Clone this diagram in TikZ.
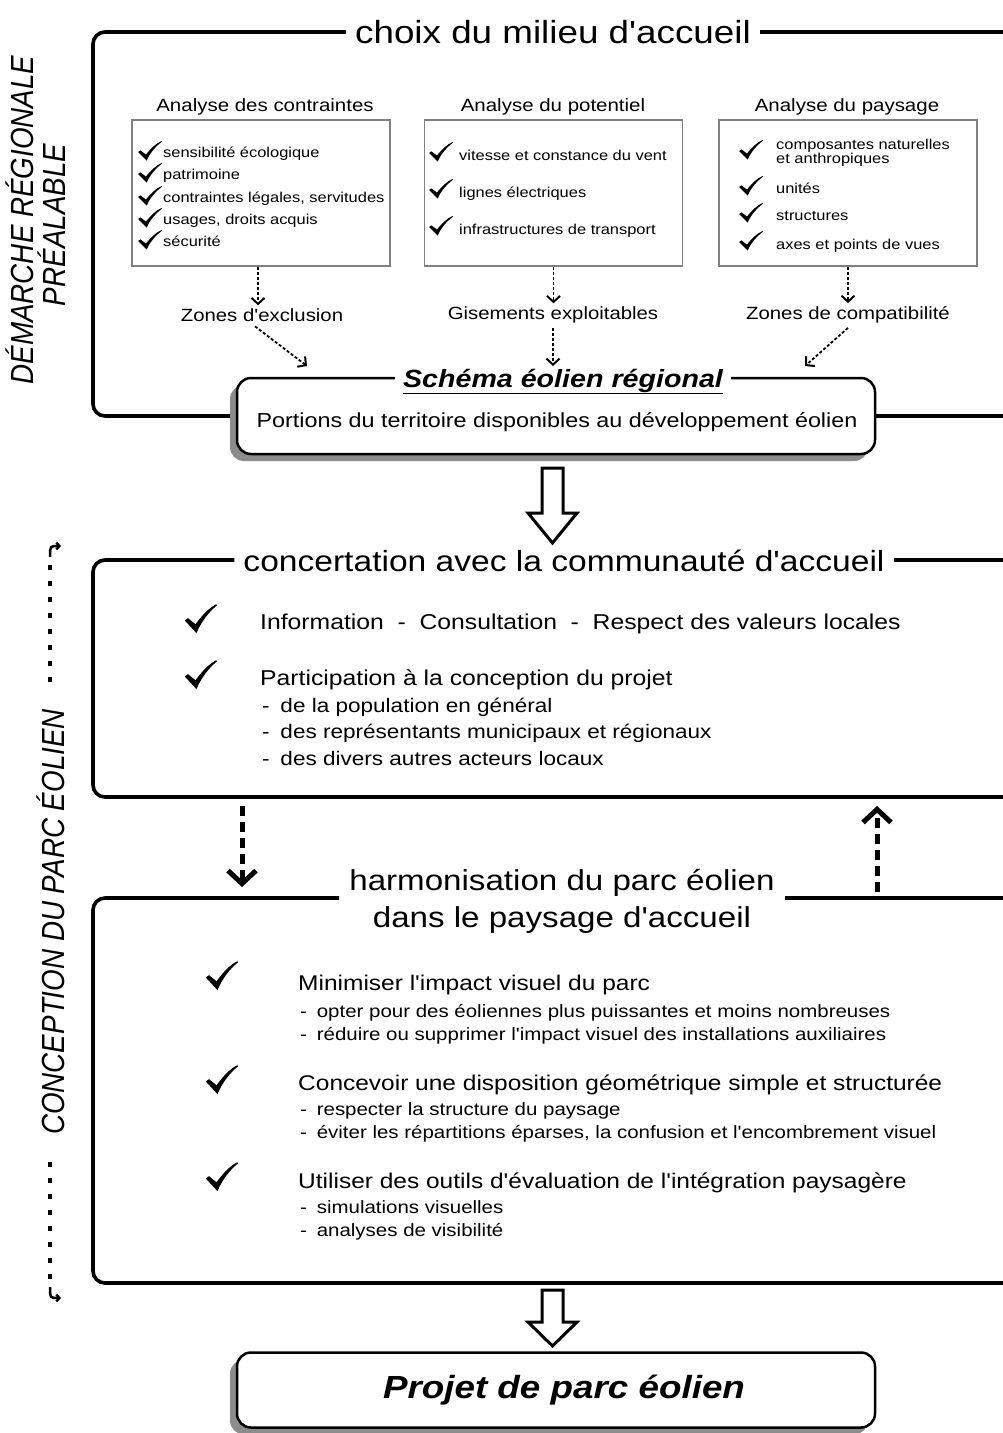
\documentclass[tikz,border=0pt]{standalone}
\usepackage{fontspec}
\setmainfont{Liberation Sans}[FakeStretch=1.15, Ligatures=TeXOff]
\newfontfamily\rotfont{Liberation Sans}[Ligatures=TeXOff]
\usetikzlibrary{arrows.meta,shadows,backgrounds}
\newcommand\fsz[1]{\fontsize{#1}{#1}\selectfont}
\tikzset{
  frame/.style={line width=3.6pt, rounded corners=12pt},
  ftitle/.style={inner xsep=9pt, inner ysep=2pt, anchor=base},
  abox/.style={draw=black!50, line width=1.3pt, minimum width=258pt, minimum height=146pt, inner sep=0pt},
  atitle/.style={font=\fsz{17.8}, anchor=mid},
  aitem/.style={font=\fsz{14.3}, anchor=mid west, inner sep=0pt},
  zlabel/.style={font=\fsz{17.7}, anchor=mid},
  smallarrow/.style={line width=1.8pt, dash pattern=on 3pt off 2pt, -{Straight Barb[length=6pt,width=13pt,line width=2pt]}},
  rbox/.style={draw, line width=2.5pt, rounded corners=14pt, fill=white, drop shadow={shadow xshift=-7pt, shadow yshift=-7pt, fill=black!45, opacity=1}},
  mitem/.style={font=\fsz{21.5}, anchor=mid west, inner sep=0pt},
  sitem/.style={font=\fsz{19.6}, anchor=mid west, inner sep=0pt},
  titem/.style={font=\fsz{21.3}, anchor=mid west, inner sep=0pt},
  tsub/.style={font=\fsz{17.8}, anchor=mid west, inner sep=0pt},
  hollow/.style={draw, line width=3pt, fill=white, miter limit=10},
  thickdash/.style={line width=5pt, dash pattern=on 10pt off 6pt, -{Straight Barb[length=13pt,width=28pt,line width=5pt]}},
  sidedots/.style={line width=4.5pt, dash pattern=on 5pt off 11pt},
  hook/.style={line width=2.5pt, -{Straight Barb[length=3pt,width=7pt,line width=2.5pt]}},
  rottext/.style={rotate=90, inner sep=0pt, anchor=base, font=\rotfont\itshape\fsz{27.8}},
  chk/.pic={\fill (-15,1.5) -- (-12,-0.9) -- (-5.1,5.4) .. controls (1.5,-4.5) and (7.5,-11.4) .. (14.1,-15) -- (15,-14.1) .. controls (7.5,-7.5) and (0,3) .. (-4.2,14.4) -- cycle;},
  smallchk/.style={xscale=0.8, yscale=0.66},
  bigchk/.style={xscale=1.08, yscale=0.98},
}
\begin{document}
\begin{tikzpicture}[x=1pt,y=-1pt]
\useasboundingbox (0,0) rectangle (1003,1433);

% ---------- side labels ----------
\node[rottext] (dr1) at (33,220) {\scalebox{1}[1.15]{DÉMARCHE RÉGIONALE}};
\node[rottext] (dr2) at (65,225) {\scalebox{1}[1.15]{PRÉALABLE}};
\node[rottext] (cp) at (64,922) {\scalebox{1}[1.15]{CONCEPTION DU PARC ÉOLIEN}};
\coordinate (sd1a) at (50,682);
\coordinate (sd1b) at (50,562);
\coordinate (sd1c) at (61,546);
\coordinate (sd2a) at (50,1162);
\coordinate (sd2b) at (50,1282);
\coordinate (sd2c) at (61,1298);
\draw[sidedots] (sd1a) -- (sd1b);
\draw[hook] (50,557) .. controls (50,546) .. (sd1c);
\draw[sidedots] (sd2a) -- (sd2b);
\draw[hook] (50,1287) .. controls (50,1298) .. (sd2c);

% ---------- frame 1 ----------
\node[ftitle, font=\fsz{32}] (t1) at (553,43) {choix du milieu d'accueil};
\coordinate (f1tl) at (93,32);
\coordinate (f1bl) at (93,416);
\coordinate (f1tr) at (1003,32);
\coordinate (f1br) at (1003,416);

\node[atitle] (a1) at (265,109) {Analyse des contraintes};
\node[atitle] (a2) at (553,109) {Analyse du potentiel};
\node[atitle] (a3) at (847,109) {Analyse du paysage};
\node[abox] (b1) at (261,193) {};
\node[abox] (b2) at (553.5,193) {};
\node[abox] (b3) at (848,193) {};

\node[aitem] (i11) at (163,155) {sensibilité écologique};
\node[aitem] (i12) at (163,177) {patrimoine};
\node[aitem] (i13) at (163,200) {contraintes légales, servitudes};
\node[aitem] (i14) at (163,222) {usages, droits acquis};
\node[aitem] (i15) at (163,244) {sécurité};
\foreach \yy in {151,173,196,218,240} \pic[smallchk] at (150,\yy) {chk};

\node[aitem] (i21) at (459,158) {vitesse et constance du vent};
\node[aitem] (i22) at (459,195) {lignes électriques};
\node[aitem] (i23) at (459,232) {infrastructures de transport};
\foreach \yy in {152,189,226} \pic[smallchk] at (441,\yy) {chk};

\node[anchor=west, inner sep=0pt, align=left, font=\fontsize{14.3}{12}\selectfont] (i31) at (776,153) {composantes naturelles\\et anthropiques};
\node[aitem] (i32) at (776,191) {unités};
\node[aitem] (i33) at (776,218) {structures};
\node[aitem] (i34) at (776,247) {axes et points de vues};
\foreach \yy in {150,186,213,241} \pic[smallchk] at (751,\yy) {chk};

\node[zlabel] (z1) at (262,319) {Zones d'exclusion};
\node[zlabel] (z2) at (553,317) {Gisements exploitables};
\node[zlabel] (z3) at (848,317) {Zones de compatibilité};
\draw[smallarrow] ([xshift=-3pt]b1.south) -- ([xshift=-3pt]b1.south |- z1.north);
\draw[smallarrow] (b2.south) -- (b2.south |- z2.north);
\draw[smallarrow] (b3.south) -- (b3.south |- z3.north);
\coordinate (e1) at (307,366);
\coordinate (e2) at (553,366);
\coordinate (e3) at (805,366);
\draw[smallarrow] ([xshift=-7pt,yshift=-1pt]z1.south) -- (e1);
\draw[smallarrow] ([yshift=-1pt]z2.south) -- (e2);
\draw[smallarrow] ([yshift=-1pt]z3.south) -- (e3);

\node[rbox, minimum width=638pt, minimum height=76pt] (schema) at (556,416) {};
\node[font=\fsz{24.9}\bfseries\itshape, fill=white, inner xsep=8pt, inner ysep=1pt, anchor=base] (st) at (563,387) {\underline{Schéma éolien régional}};
\node[font=\fsz{20.3}, anchor=base] (sp) at (557,427) {Portions du territoire disponibles au développement éolien};

\begin{scope}[on background layer]
\draw[frame] (t1.west |- f1tl) -- (f1tl) -- (f1bl) -- (schema.west);
\draw[frame] (t1.east |- f1tr) -- (f1tr);
\draw[frame] (schema.east) -- (f1br);
\end{scope}

% ---------- hollow arrow 1 ----------
\coordinate (ha1) at (552.5,468);
\draw[hollow] (ha1) ++(-10.5,0) -- ++(21,0) -- ++(0,45) -- ++(14,0) -- ++(-24.5,30) -- ++(-24.5,-30) -- ++(14,0) -- cycle;

% ---------- frame 2 ----------
\node[ftitle, font=\fsz{29.2}] (t2) at (564,571) {concertation avec la communauté d'accueil};
\coordinate (f2tl) at (93,560);
\coordinate (f2bl) at (93,797);
\coordinate (f2tr) at (1003,560);
\coordinate (f2br) at (1003,797);
\draw[frame] (t2.west |- f2tl) -- (f2tl) -- (f2bl) -- (f2br);
\draw[frame] (t2.east |- f2tr) -- (f2tr);

\pic[bigchk] at (201,619) {chk};
\pic[bigchk] at (201,675) {chk};
\node[mitem] (c1) at (260,627) {Information\ \ -\ \ Consultation\ \ -\ \ Respect des valeurs locales};
\node[mitem] (c2) at (260,683) {Participation à la conception du projet};
\node[sitem] (c3) at (262,710) {-\hspace{0.55em}de la population en général};
\node[sitem] (c4) at (262,736) {-\hspace{0.55em}des représentants municipaux et régionaux};
\node[sitem] (c5) at (262,763) {-\hspace{0.55em}des divers autres acteurs locaux};

% ---------- dashed link arrows ----------
\coordinate (d1s) at (242,806);
\coordinate (d1e) at (242,887);
\coordinate (u1s) at (877,892);
\coordinate (u1e) at (877,806);
\draw[thickdash] (d1s) -- (d1e);
\draw[thickdash] (u1s) -- (u1e);

% ---------- frame 3 ----------
\node[font=\fontsize{28.8}{37}\selectfont, align=center, inner xsep=10pt, inner ysep=0pt] (t3) at (562,901) {harmonisation du parc éolien\\dans le paysage d'accueil};
\coordinate (f3tl) at (93,898);
\coordinate (f3bl) at (93,1283);
\coordinate (f3tr) at (1003,898);
\coordinate (f3br) at (1003,1283);
\draw[frame] (t3.west |- f3tl) -- (f3tl) -- (f3bl) -- (f3br);
\draw[frame] (t3.east |- f3tr) -- (f3tr);

\pic[bigchk] at (222,976) {chk};
\pic[bigchk] at (222,1080) {chk};
\pic[bigchk] at (222,1177) {chk};
\node[titem] (h1) at (298,988) {Minimiser l'impact visuel du parc};
\node[tsub] (h1a) at (300,1015) {-\hspace{0.55em}opter pour des éoliennes plus puissantes et moins nombreuses};
\node[tsub] (h1b) at (300,1038) {-\hspace{0.55em}réduire ou supprimer l'impact visuel des installations auxiliaires};
\node[titem] (h2) at (298,1088) {Concevoir une disposition géométrique simple et structurée};
\node[tsub] (h2a) at (300,1113) {-\hspace{0.55em}respecter la structure du paysage};
\node[tsub] (h2b) at (300,1136) {-\hspace{0.55em}éviter les répartitions éparses, la confusion et l'encombrement visuel};
\node[titem] (h3) at (298,1186) {Utiliser des outils d'évaluation de l'intégration paysagère};
\node[tsub] (h3a) at (300,1211) {-\hspace{0.55em}simulations visuelles};
\node[tsub] (h3b) at (300,1234) {-\hspace{0.55em}analyses de visibilité};

% ---------- hollow arrow 2 ----------
\coordinate (ha2) at (552.5,1290);
\draw[hollow] (ha2) ++(-10.5,0) -- ++(21,0) -- ++(0,32) -- ++(14,0) -- ++(-24.5,24) -- ++(-24.5,-24) -- ++(14,0) -- cycle;

% ---------- final box ----------
\node[rbox, minimum width=638pt, minimum height=75pt] (proj) at (556,1390) {};
\node[font=\fsz{32}\bfseries\itshape] (pt) at (564,1390) {Projet de parc éolien};
\end{tikzpicture}
\end{document}
